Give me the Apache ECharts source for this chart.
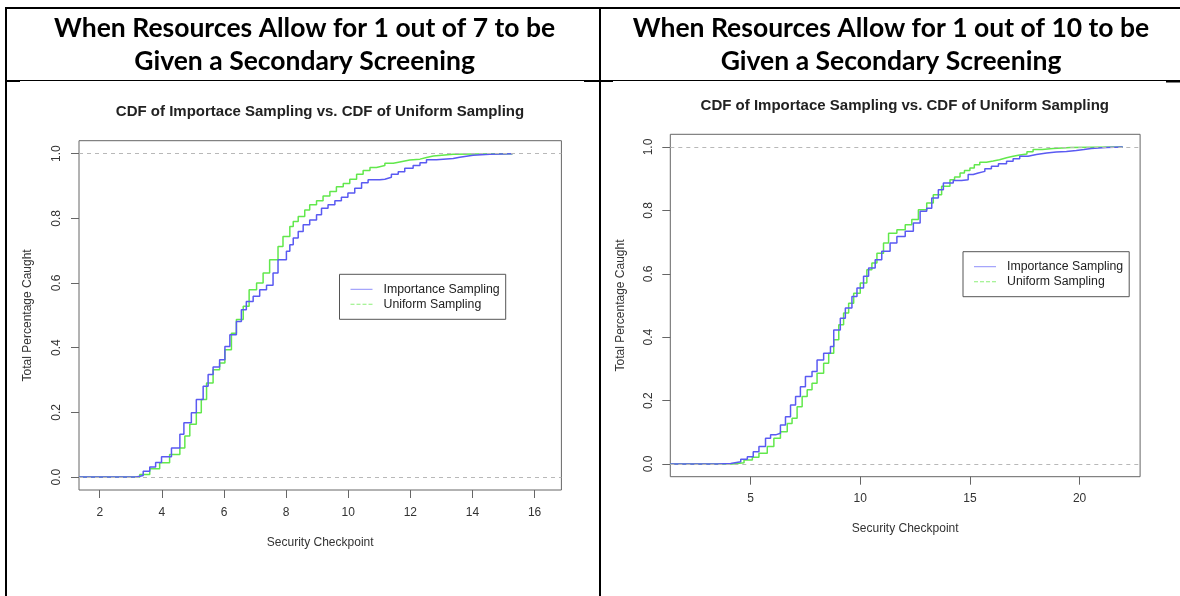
<!DOCTYPE html>
<html>
<head>
<meta charset="utf-8">
<script src="https://cdn.jsdelivr.net/npm/echarts@6/dist/echarts.min.js"></script>
<style>
html,body{margin:0;padding:0;background:#fff;}
#c{width:1180px;height:596px;}
</style>
</head>
<body>
<div id="c"></div>
<script>
// ---- texts ----
const headerLeft = ['When Resources Allow for 1 out of 7 to be', 'Given a Secondary Screening'];
const headerRight = ['When Resources Allow for 1 out of 10 to be', 'Given a Secondary Screening'];
const plotTitle = 'CDF of Importace Sampling vs. CDF of Uniform Sampling';
const xName = 'Security Checkpoint';
const yName = 'Total Percentage Caught';
const seriesNames = ['Importance Sampling', 'Uniform Sampling'];

// ---- axes ----
const leftXRange = [1.333, 16.863];
const rightXRange = [1.338, 22.76];
const yRange = [-0.04, 1.04];
const leftXTicks = [2, 4, 6, 8, 10, 12, 14, 16];
const rightXTicks = [5, 10, 15, 20];
const yTicks = [0, 0.2, 0.4, 0.6, 0.8, 1.0];

// ---- data: left chart (1 out of 7) ----
const leftImportance = [
  [1.333,0],[2.86,0],[3.18,0.005],[3.40,0.018],[3.61,0.031],[3.80,0.045],[3.99,0.063],[4.31,0.09],[4.58,0.132],[4.71,0.168],
  [4.95,0.199],[5.11,0.24],[5.33,0.281],[5.49,0.317],[5.65,0.34],[5.86,0.363],[6.03,0.404],
  [6.19,0.44],[6.40,0.481],[6.56,0.517],[6.72,0.543],[6.94,0.559],[7.15,0.579],[7.37,0.593],
  [7.58,0.631],[7.74,0.672],[8.01,0.698],[8.12,0.718],[8.23,0.739],[8.39,0.759],[8.55,0.78],
  [8.76,0.795],[8.98,0.811],[9.14,0.831],[9.35,0.842],[9.57,0.854],[9.78,0.865],[9.99,0.878],
  [10.21,0.893],[10.43,0.91],[10.64,0.919],[11.02,0.921],[11.18,0.927],[11.39,0.936],[11.61,0.944],
  [11.82,0.955],[12.09,0.963],[12.31,0.972],[12.52,0.981],[12.84,0.985],[13.38,0.989],[13.59,0.995],
  [14.02,0.998],[14.56,1.0],[15.29,1.0]
];
const leftUniform = [
  [1.333,0],[2.98,0],[3.29,0.008],[3.61,0.026],[3.93,0.044],[4.25,0.07],[4.58,0.09],[4.74,0.127],
  [4.90,0.163],[5.11,0.199],[5.27,0.24],[5.44,0.291],[5.65,0.332],[5.86,0.353],[6.03,0.394],
  [6.24,0.445],[6.40,0.487],[6.62,0.528],[6.81,0.579],[7.05,0.6],[7.26,0.631],[7.47,0.672],
  [7.74,0.713],[7.90,0.744],[8.12,0.775],[8.23,0.79],[8.39,0.806],[8.60,0.826],[8.76,0.842],
  [8.98,0.854],[9.19,0.869],[9.41,0.883],[9.62,0.898],[9.84,0.908],[10.05,0.921],[10.27,0.936],
  [10.48,0.948],[10.70,0.957],[10.91,0.963],[11.18,0.97],[11.45,0.974],[11.66,0.98],[11.98,0.983],
  [12.31,0.988],[12.52,0.993],[12.74,0.998],[13.38,0.999],[14.13,1.0],[15.29,1.0]
];

// ---- data: right chart (1 out of 10) ----
const rightImportance = [
  [1.338,0],[3.48,0.002],[4.09,0.007],[4.55,0.015],[4.85,0.023],[5.12,0.039],[5.38,0.055],[5.68,0.081],
  [5.91,0.092],[6.14,0.097],[6.36,0.123],[6.59,0.149],[6.82,0.186],[7.05,0.213],[7.27,0.244],
  [7.50,0.276],[7.80,0.292],[8.03,0.328],[8.33,0.349],[8.64,0.371],[8.79,0.423],[9.09,0.46],
  [9.32,0.492],[9.62,0.528],[9.85,0.555],[10.15,0.592],[10.38,0.618],[10.68,0.644],[10.98,0.671],
  [11.36,0.697],[11.67,0.718],[12.05,0.734],[12.42,0.76],[12.73,0.797],[13.03,0.807],[13.26,0.839],
  [13.56,0.865],[13.79,0.886],[14.24,0.894],[14.62,0.897],[14.92,0.913],[15.15,0.918],[15.38,0.923],
  [15.68,0.931],[15.98,0.939],[16.30,0.947],[16.67,0.955],[16.97,0.963],[17.27,0.971],[17.65,0.976],
  [18.03,0.981],[18.50,0.984],[18.94,0.986],[19.40,0.989],[19.85,0.992],[20.20,0.995],[20.53,0.998],
  [21.2,1.0],[21.97,1.0]
];
const rightUniform = [
  [1.338,0],[4.17,0.004],[4.70,0.013],[5.08,0.021],[5.38,0.034],[5.76,0.055],[6.06,0.081],[6.36,0.102],
  [6.67,0.128],[6.89,0.144],[7.12,0.181],[7.35,0.213],[7.58,0.234],[7.80,0.255],[8.03,0.286],
  [8.33,0.318],[8.56,0.349],[8.79,0.392],[9.02,0.439],[9.24,0.476],[9.47,0.507],[9.70,0.539],
  [10.0,0.571],[10.3,0.613],[10.53,0.634],[10.76,0.665],[11.06,0.697],[11.29,0.728],[11.67,0.739],
  [12.05,0.755],[12.35,0.771],[12.65,0.802],[13.03,0.823],[13.33,0.849],[13.71,0.876],[14.09,0.897],
  [14.30,0.905],[14.55,0.918],[14.75,0.926],[15.0,0.934],[15.2,0.944],[15.45,0.952],[15.75,0.956],
  [16.06,0.96],[16.35,0.966],[16.67,0.971],[16.97,0.975],[17.27,0.978],[17.6,0.985],[17.88,0.992],
  [18.3,0.995],[18.79,0.998],[19.6,0.999],[20.61,1.0],[21.97,1.0]
];

// ---- styles ----
const FONT = '"Liberation Sans", Arial, sans-serif';
const BLUE = '#5a5af2';
const GREEN = '#62e84c';
const LEG_BLUE = '#8e8efa';
const LEG_GREEN = '#8cf078';
const BOX = '#666';
const TXT = '#333';
const SOLID_ICON = 'path://M0,0h22v1h-22z';
const DASH_ICON = 'path://M0,0h4v1h-4zM6,0h4v1h-4zM12,0h4v1h-4zM18,0h4v1h-4z';

const grids = [
  {left: 79, top: 140.7, width: 482.4, height: 349.3},
  {left: 670.3, top: 134.3, width: 469.8, height: 342.4}
];
const gaps = [
  {yLab: 16, xLab: 17, yName: 45, xName: 47},
  {yLab: 16, xLab: 16, yName: 44, xName: 46}
];
const ranges = [leftXRange, rightXRange];
const xTicks = [leftXTicks, rightXTicks];
const dataSets = [[leftImportance, leftUniform], [rightImportance, rightUniform]];
const legendPos = [{left: 339.5, top: 274.3}, {left: 963, top: 251.7}];
const titlePos = [[320, 111.7], [904.8, 106]];

const option = {
  animation: false,
  backgroundColor: '#fff',
  textStyle: {fontFamily: FONT},
  grid: grids.map(g => Object.assign({show: true, borderColor: BOX, borderWidth: 1, backgroundColor: 'transparent', containLabel: false}, g)),
  xAxis: grids.map((g, i) => ({
    type: 'value', gridIndex: i, min: ranges[i][0], max: ranges[i][1],
    name: xName, nameLocation: 'middle', nameGap: gaps[i].xName,
    nameTextStyle: {fontFamily: FONT, fontSize: 12, color: TXT},
    axisLine: {show: false, onZero: false},
    axisTick: {show: true, inside: false, length: 8, customValues: xTicks[i], lineStyle: {color: BOX}},
    axisLabel: {customValues: xTicks[i], fontFamily: FONT, fontSize: 12, color: TXT, margin: gaps[i].xLab},
    splitLine: {show: false}
  })),
  yAxis: grids.map((g, i) => ({
    type: 'value', gridIndex: i, min: yRange[0], max: yRange[1],
    name: yName, nameLocation: 'middle', nameGap: gaps[i].yName,
    nameTextStyle: {fontFamily: FONT, fontSize: 12, color: TXT},
    axisLine: {show: false, onZero: false},
    axisTick: {show: true, inside: false, length: 8, customValues: yTicks, lineStyle: {color: BOX}},
    axisLabel: {customValues: yTicks, rotate: 90, fontFamily: FONT, fontSize: 12, color: TXT, margin: gaps[i].yLab,
      formatter: v => v.toFixed(1)},
    splitLine: {show: false}
  })),
  legend: legendPos.map(p => ({
    left: p.left, top: p.top, orient: 'vertical',
    backgroundColor: '#fff', borderColor: '#555', borderWidth: 1, borderRadius: 0,
    padding: [8, 6, 8, 11],
    itemWidth: 22, itemHeight: 2, itemGap: 1,
    selectedMode: false,
    textStyle: {fontFamily: FONT, fontSize: 12.3, color: '#222', lineHeight: 14, padding: [0, 0, 0, 6]},
    data: [
      {name: seriesNames[0], icon: SOLID_ICON, itemStyle: {color: LEG_BLUE, borderWidth: 0}},
      {name: seriesNames[1], icon: DASH_ICON, itemStyle: {color: LEG_GREEN, borderWidth: 0}}
    ]
  })),
  series: [],
  graphic: []
};

// series
for (let i = 0; i < 2; i++) {
  option.series.push({
    name: seriesNames[0], type: 'line', xAxisIndex: i, yAxisIndex: i,
    data: dataSets[i][0], step: 'end', showSymbol: false, symbol: 'none', z: 3,
    lineStyle: {color: BLUE, width: 1.5}, itemStyle: {color: BLUE},
    markLine: {
      silent: true, symbol: 'none', label: {show: false},
      lineStyle: {color: '#b8b8b8', type: [4, 4], width: 1},
      data: [{yAxis: 0}, {yAxis: 1}]
    }
  });
  option.series.push({
    name: seriesNames[1], type: 'line', xAxisIndex: i, yAxisIndex: i,
    data: dataSets[i][1], step: 'end', showSymbol: false, symbol: 'none', z: 2,
    lineStyle: {color: GREEN, width: 1.5}, itemStyle: {color: GREEN}
  });
}

// table borders
const rects = [
  [5, 7, 1175, 2], [5, 7, 2, 589], [599, 7, 2, 589],
  [5, 80, 1175, 1], [7, 80, 13, 2], [584, 80, 29, 2], [1166, 80.5, 14, 2]
];
rects.forEach(r => option.graphic.push({type: 'rect', silent: true, shape: {x: r[0], y: r[1], width: r[2], height: r[3]}, style: {fill: '#000'}}));

// headers
const headerStyle = {fontFamily: 'Lato, "Open Sans", sans-serif', fontWeight: 'bold', fontSize: 26.5, fill: '#000', textAlign: 'center', textVerticalAlign: 'middle'};
[[headerLeft, 304.6], [headerRight, 891]].forEach(h => {
  h[0].forEach((line, k) => option.graphic.push({type: 'text', silent: true, x: h[1], y: k === 0 ? 28 : 61.5,
    style: Object.assign({text: line}, headerStyle)}));
});

// plot titles
titlePos.forEach(p => option.graphic.push({type: 'text', silent: true, x: p[0], y: p[1],
  style: {text: plotTitle, fontFamily: FONT, fontWeight: 'bold', fontSize: 15, fill: '#222', textAlign: 'center', textVerticalAlign: 'middle'}}));

const chart = echarts.init(document.getElementById('c'), null, {renderer: 'canvas'});
chart.setOption(option);
</script>
</body>
</html>
